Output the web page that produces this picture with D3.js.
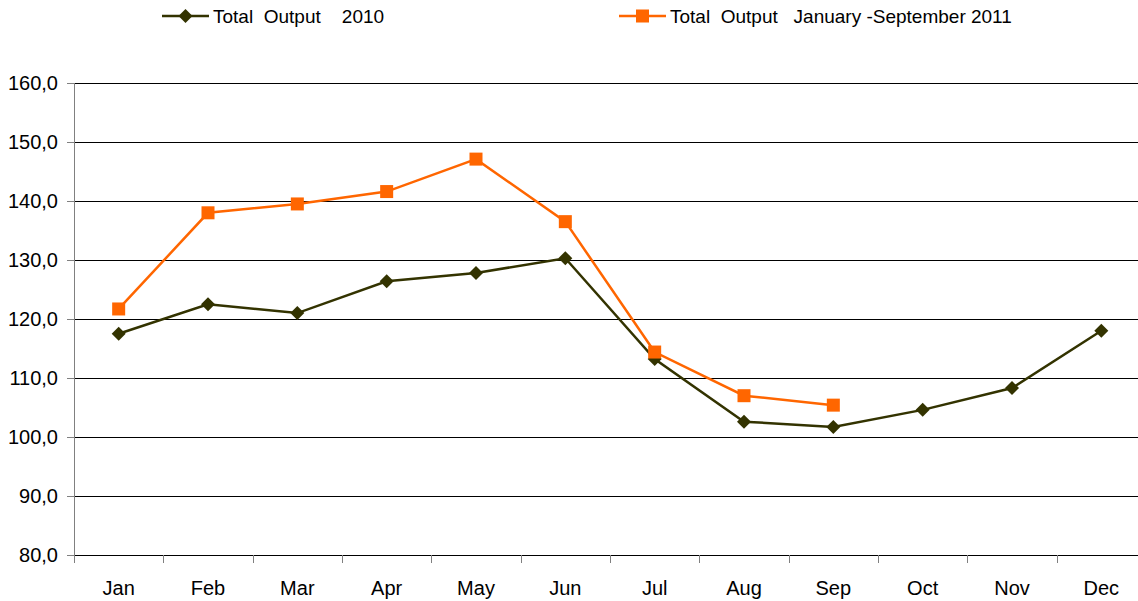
<!DOCTYPE html>
<html>
<head>
<meta charset="utf-8">
<script src="https://cdn.jsdelivr.net/npm/d3@7"></script>
<style>
  body { margin: 0; background: #fff; overflow: hidden; }
  text { font-family: "Liberation Sans", Arial, sans-serif; fill: #000; }
</style>
</head>
<body>
<script>
// data
var months = ["Jan","Feb","Mar","Apr","May","Jun","Jul","Aug","Sep","Oct","Nov","Dec"];
var output2010 = [117.5, 122.5, 121.0, 126.4, 127.8, 130.3, 113.2, 102.6, 101.7, 104.6, 108.3, 118.0];
var output2011 = [121.7, 138.0, 139.5, 141.6, 147.1, 136.5, 114.4, 107.0, 105.4];
var yTicks = [80, 90, 100, 110, 120, 130, 140, 150, 160];
var seriesNames = ["Total  Output    2010", "Total  Output   January -September 2011"];

var width = 1138, height = 601;
var margin = {top: 83, left: 74, bottom: 46};
// plot runs a little past the right edge of the picture
var w = 1072;
var h = height - margin.top - margin.bottom;

var svg = d3.select("body").append("svg")
  .attr("width", width)
  .attr("height", height);

var g = svg.append("g")
  .attr("transform", "translate(" + margin.left + "," + margin.top + ")");

var x = d3.scaleBand().domain(months).range([0, w]);
var y = d3.scaleLinear().domain([80, 160]).range([h, 0]);

// gridlines
g.selectAll(".grid")
  .data(yTicks)
  .enter().append("line")
  .attr("x1", 0)
  .attr("x2", w)
  .attr("y1", function(d) { return Math.round(y(d)) + 0.5; })
  .attr("y2", function(d) { return Math.round(y(d)) + 0.5; })
  .attr("stroke", "#000")
  .attr("stroke-width", 1);

// y axis
var yAxis = g.append("g")
  .call(d3.axisLeft(y).tickValues(yTicks).tickSize(7).tickPadding(9)
    .tickFormat(function(d) { return d3.format(".1f")(d).replace(".", ","); }));
yAxis.select(".domain").attr("stroke", "#808080").attr("d", "M0.5,0V" + h);
yAxis.selectAll(".tick line").attr("stroke", "#808080");
yAxis.selectAll(".tick text").style("font-size", "20px");

// x axis: ticks at band edges
var xAxis = g.append("g").attr("transform", "translate(0," + h + ")");
xAxis.selectAll(".xt")
  .data(d3.range(months.length + 1))
  .enter().append("line")
  .attr("x1", function(i) { return Math.round(i * x.step()) + 0.5; })
  .attr("x2", function(i) { return Math.round(i * x.step()) + 0.5; })
  .attr("y1", 0)
  .attr("y2", 8)
  .attr("stroke", "#808080");
xAxis.selectAll(".xl")
  .data(months)
  .enter().append("text")
  .attr("x", function(d) { return x(d) + x.bandwidth() / 2; })
  .attr("y", 40)
  .attr("text-anchor", "middle")
  .style("font-size", "20px")
  .text(function(d) { return d; });

var line = d3.line()
  .x(function(d, i) { return x(months[i]) + x.bandwidth() / 2; })
  .y(function(d) { return y(d); });

// 2010 series
g.append("path")
  .datum(output2010)
  .attr("fill", "none")
  .attr("stroke", "#333300")
  .attr("stroke-width", 2.5)
  .attr("d", line);

g.selectAll(".dia")
  .data(output2010)
  .enter().append("path")
  .attr("transform", function(d, i) { return "translate(" + (x(months[i]) + x.bandwidth() / 2) + "," + y(d) + ")"; })
  .attr("d", "M0,-7L7,0L0,7L-7,0Z")
  .attr("fill", "#333300");

// 2011 series
g.append("path")
  .datum(output2011)
  .attr("fill", "none")
  .attr("stroke", "#FF6600")
  .attr("stroke-width", 2.5)
  .attr("d", line);

g.selectAll(".sq")
  .data(output2011)
  .enter().append("rect")
  .attr("x", function(d, i) { return x(months[i]) + x.bandwidth() / 2 - 6.5; })
  .attr("y", function(d) { return y(d) - 6.5; })
  .attr("width", 13)
  .attr("height", 13)
  .attr("fill", "#FF6600");

// legend
var legend = [
  {name: seriesNames[0], color: "#333300", shape: "diamond", x: 162},
  {name: seriesNames[1], color: "#FF6600", shape: "square", x: 619}
];
var lg = svg.selectAll(".legend")
  .data(legend)
  .enter().append("g")
  .attr("transform", function(d) { return "translate(" + d.x + ",16)"; });
lg.append("line")
  .attr("x1", 0).attr("x2", 47)
  .attr("stroke", function(d) { return d.color; })
  .attr("stroke-width", 2.5);
lg.filter(function(d) { return d.shape === "diamond"; }).append("path")
  .attr("d", "M23.5,-7L30.5,0L23.5,7L16.5,0Z")
  .attr("fill", function(d) { return d.color; });
lg.filter(function(d) { return d.shape === "square"; }).append("rect")
  .attr("x", 17).attr("y", -6.5).attr("width", 13).attr("height", 13)
  .attr("fill", function(d) { return d.color; });
lg.append("text")
  .attr("x", 51)
  .attr("y", 7)
  .attr("xml:space", "preserve")
  .style("white-space", "pre")
  .style("font-size", "19px")
  .text(function(d) { return d.name; });
</script>
</body>
</html>
